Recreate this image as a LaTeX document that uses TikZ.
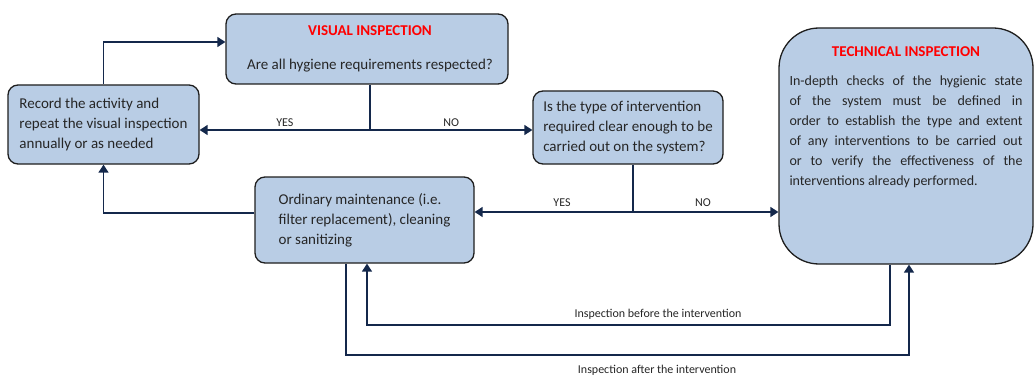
\documentclass[tikz,border=0pt]{standalone}
\usepackage{fontspec}
\setmainfont{Carlito}
\usetikzlibrary{arrows.meta,calc}
\definecolor{boxfill}{HTML}{B9CDE5}
\definecolor{boxline}{HTML}{1E1E1E}
\definecolor{conn}{HTML}{14284B}
\definecolor{titlered}{HTML}{FF0000}
\begin{document}
\begin{tikzpicture}[x=1pt,y=-1pt,
  box/.style={draw=boxline,line width=1.3pt,fill=boxfill,rounded corners=10pt,
    align=left,inner sep=0pt,font=\fontsize{15}{20}\selectfont,text=black!85},
  conn/.style={draw=conn,line width=1.6pt},
  arr/.style={conn,-{Triangle[length=8pt,width=10pt]}},
  lab/.style={font=\fontsize{12}{14}\selectfont,text=black!85,inner sep=1pt}]
\useasboundingbox (0,0) rectangle (1035,377);
% boxes
\node[box,minimum width=282pt,minimum height=70pt,align=center] (vi) at (367,49)
  {\hspace*{6pt}\raisebox{-2.5pt}{\color{titlered}\bfseries VISUAL INSPECTION}\\[16pt]\hspace*{6pt}Are all hygiene requirements respected?};
\node[box,minimum width=191pt,minimum height=79pt] (rec) at (103.5,124.5)
  {Record the activity and\\repeat the visual inspection\\annually or as needed};
\node[box,minimum width=190pt,minimum height=73pt] (dec) at (628,127.5)
  {Is the type of intervention\\required clear enough to be\\carried out on the system?};
\node[box,minimum width=219pt,minimum height=86pt] (om) at (364.5,220)
  {Ordinary maintenance (i.e.\\filter replacement), cleaning\\or sanitizing};
\node[box,rounded corners=40pt,minimum width=254pt,minimum height=236pt] (tech) at (906,146) {};
\node[anchor=north,inner sep=0pt,align=center,font=\fontsize{14}{20}\selectfont,text=black!85] (techtxt) at (906,46)
  {{\fontsize{15}{20}\selectfont\color{titlered}\bfseries TECHNICAL INSPECTION}\\[9pt]
   \makebox[233pt][s]{In-depth checks of the hygienic state}\\
   \makebox[233pt][s]{of the system must be defined in}\\
   \makebox[233pt][s]{order to establish the type and extent}\\
   \makebox[233pt][s]{of any interventions to be carried out}\\
   \makebox[233pt][s]{or to verify the effectiveness of the}\\
   \makebox[233pt][l]{interventions already performed.}};
% connectors
\draw[arr] (rec.north) |- ($(vi.west)+(0,-7)$);
\coordinate (j1) at (370,130);
\draw[conn] ($(vi.south)+(3,0)$) -- (j1);
\draw[arr] (j1) -- (j1 -| rec.east) node[lab,midway,above=2pt] (yes1) {YES};
\draw[arr] (j1) -- (j1 -| dec.west) node[lab,midway,above=2pt] (no1) {NO};
\coordinate (j2) at (633,212);
\draw[conn] (j2 |- dec.south) -- (j2);
\draw[arr] (j2) -- (j2 -| om.east);
\draw[arr] (j2) -- (j2 -| tech.west);
\node[lab] (yes2) at (562,203) {YES};
\node[lab] (no2) at (703,203) {NO};
\draw[arr] ($(om.west)+(0,-7)$) -| (rec.south);
\coordinate (b1) at (890,325);
\coordinate (b2) at (367,325);
\draw[arr] (b1 |- tech.south) -- (b1) -- (b2) -- (b2 |- om.south);
\node[lab] (before) at (658,314) {Inspection before the intervention};
\coordinate (a1) at (346,355);
\coordinate (a2) at (909,355);
\draw[arr] (a1 |- om.south) -- (a1) -- (a2) -- (a2 |- tech.south);
\node[lab] (after) at (657,370) {Inspection after the intervention};
\end{tikzpicture}
\end{document}
